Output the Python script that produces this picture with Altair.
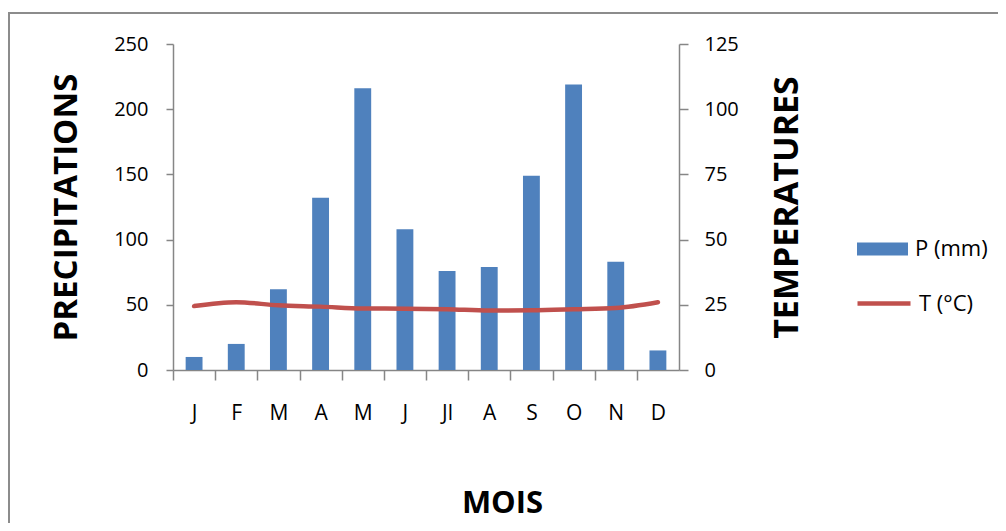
import altair as alt
import pandas as pd

month_labels = ["J", "F", "M", "A", "M", "J", "Jl", "A", "S", "O", "N", "D"]
month_index = list(range(1, 13))
precip_mm = [10, 20, 62, 132, 216, 108, 76, 79, 149, 219, 83, 15]
temp_c = [24.5, 26.0, 24.8, 24.3, 23.6, 23.5, 23.3, 22.8, 22.9, 23.3, 23.8, 26.0]
p_ticks = [0, 50, 100, 150, 200, 250]
t_ticks = [0, 25, 50, 75, 100, 125]

df = pd.DataFrame({"m": month_index, "P": precip_mm, "T": temp_c})

BLUE = "#4F81BD"
RED = "#C0504D"
GRAY = "#868686"
FONT = "Open Sans"

W, H = 506, 326
step = W / 12.0

label_js = "[" + ",".join("'%s'" % s for s in month_labels) + "][datum.value - 1]"

x_enc = alt.X(
    "m:O",
    scale=alt.Scale(paddingInner=0.6, paddingOuter=0.3),
    axis=alt.Axis(
        title="MOIS",
        labelExpr=label_js,
        labelAngle=0,
        labelFontSize=21,
        labelPadding=22,
        tickSize=10,
        bandPosition=0.5,
        tickOffset=-step / 2,
        labelOffset=step / 2,
        titleX=329,
        titleY=133,
        titleFontSize=31,
        titleAlign="center",
        titleBaseline="middle",
    ),
)

bars = (
    alt.Chart(df)
    .transform_calculate(serie="'P (mm)'")
    .mark_bar(color=BLUE)
    .encode(
        x=x_enc,
        y=alt.Y(
            "P:Q",
            scale=alt.Scale(domain=[0, 250], nice=False),
            axis=alt.Axis(
                title="PRECIPITATIONS",
                orient="left",
                values=p_ticks,
                tickSize=7,
                labelPadding=18,
                labelFontSize=20,
                grid=False,
                titleX=-107,
                titleY=163,
                titleAngle=270,
                titleFontSize=33,
                titleAlign="center",
                titleBaseline="middle",
            ),
        ),
        fill=alt.Fill(
            "serie:N",
            scale=alt.Scale(domain=["P (mm)"], range=[BLUE]),
            legend=alt.Legend(
                title=None,
                orient="none",
                legendX=684,
                legendY=179.5,
                symbolType="M-1,-0.255H1V0.255H-1Z",
                symbolSize=2601,
                symbolStrokeWidth=0,
                labelFontSize=22,
                labelOffset=7,
                padding=0,
            ),
        ),
    )
)

line = (
    alt.Chart(df)
    .transform_calculate(serie2="'T (°C)'")
    .mark_line(strokeWidth=4.5, interpolate="monotone", strokeCap="round")
    .encode(
        x=alt.X("m:O"),
        y=alt.Y(
            "T:Q",
            scale=alt.Scale(domain=[0, 125], nice=False),
            axis=alt.Axis(
                title="TEMPERATURES",
                orient="right",
                values=t_ticks,
                tickSize=9,
                labelPadding=16,
                labelFontSize=20,
                grid=False,
                titleX=108,
                titleY=163,
                titleAngle=270,
                titleFontSize=34,
                titleAlign="center",
                titleBaseline="middle",
            ),
        ),
        stroke=alt.Stroke(
            "serie2:N",
            scale=alt.Scale(domain=["T (°C)"], range=[RED]),
            legend=alt.Legend(
                title=None,
                orient="none",
                legendX=682,
                legendY=230.5,
                symbolType="stroke",
                symbolSize=2809,
                symbolStrokeWidth=4.5,
                labelFontSize=22,
                labelOffset=6,
                padding=0,
            ),
        ),
    )
)

frame = (
    alt.Chart(alt.Data(values=[{"k": 1}]))
    .mark_rect(fill=None, stroke="#8C8C8C", strokeWidth=2)
    .encode(
        x=alt.value(-164),
        x2=alt.value(W + 400),
        y=alt.value(-31),
        y2=alt.value(H + 400),
    )
)

chart = (
    alt.layer(frame, bars, line)
    .resolve_scale(y="independent", fill="independent", stroke="independent")
    .properties(
        width=W,
        height=H,
        autosize=alt.AutoSizeParams(type="none"),
        padding={"left": 165, "top": 36, "right": 319, "bottom": 153},
    )
    .configure_view(stroke=None)
    .configure_axis(
        domainColor=GRAY,
        tickColor=GRAY,
        domainWidth=1.5,
        tickWidth=1.5,
        labelColor="black",
        labelFont=FONT,
        titleFont=FONT,
        titleFontWeight="bold",
        titleColor="black",
    )
    .configure_legend(labelFont=FONT, labelColor="black")
)

chart.save("out.html", embed_options={"renderer": "svg", "actions": False})
